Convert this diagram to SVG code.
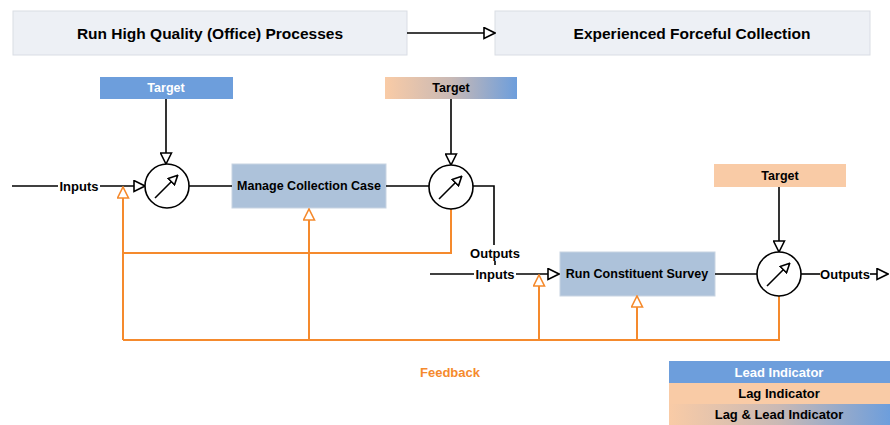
<svg xmlns="http://www.w3.org/2000/svg" width="890" height="425" viewBox="0 0 890 425">
<defs>
<linearGradient id="gr" x1="0" y1="0" x2="1" y2="0">
<stop offset="0" stop-color="#f9cba6"/>
<stop offset="0.5" stop-color="#c9b9b5"/>
<stop offset="1" stop-color="#6d9edc"/>
</linearGradient>
<marker id="ah" markerWidth="13" markerHeight="13" refX="12" refY="6.5" orient="auto" markerUnits="userSpaceOnUse">
<path d="M1,1 L12,6.5 L1,12 Z" fill="#fff" stroke="#000" stroke-width="1.6"/>
</marker>
<marker id="oh" markerWidth="13" markerHeight="13" refX="12" refY="6.5" orient="auto" markerUnits="userSpaceOnUse">
<path d="M1,1 L12,6.5 L1,12 Z" fill="#fff" stroke="#f58a2d" stroke-width="1.6"/>
</marker>
<marker id="sh" markerWidth="11" markerHeight="11" refX="9" refY="5.5" orient="auto" markerUnits="userSpaceOnUse">
<path d="M1,1 L10,5.5 L1,10 Z" fill="#fff" stroke="#000" stroke-width="1.6"/>
</marker>
</defs>
<style>
text{font-family:"Liberation Sans",Arial,sans-serif;font-weight:bold;text-anchor:middle;dominant-baseline:central}
.top{fill:#edf0f5;stroke:#d9dde4;stroke-width:1}
.title{font-size:15.5px;fill:#000}
.node{fill:#adc2da;stroke:#c8d4e2;stroke-width:1}
.nt{font-size:12.5px;fill:#000}
.lbl{font-size:13px;fill:#000}
.blue{fill:#6d9edc}
.peach{fill:#f9cba6}
.grad{fill:url(#gr)}
.wt{font-size:12.5px;fill:#fff}
.lg{font-size:13px}
.ln{fill:none;stroke:#000;stroke-width:1.6}
.fb{fill:none;stroke:#f58a2d;stroke-width:2}
.circ{fill:#fff;stroke:#000;stroke-width:1.6}
</style>

<g id="top-left"><rect class="top" x="13" y="11" width="394" height="44"/><text class="title" x="210" y="33">Run High Quality (Office) Processes</text></g>
<g id="top-right"><rect class="top" x="495" y="11" width="375" height="44"/><text class="title" x="692" y="33">Experienced Forceful Collection</text></g>

<g id="target1"><rect class="blue" x="100" y="77" width="133" height="22"/><text class="wt" x="166" y="88">Target</text></g>
<g id="target2"><rect class="grad" x="385" y="77" width="132" height="22"/><text class="nt" x="451" y="88">Target</text></g>
<g id="target3"><rect class="peach" x="714" y="164" width="132" height="23"/><text class="nt" x="780" y="175.5">Target</text></g>

<g id="manage"><rect class="node" x="232" y="164" width="154" height="44"/><text class="nt" x="309" y="186">Manage Collection Case</text></g>
<g id="survey"><rect class="node" x="560" y="252" width="155" height="44"/><text class="nt" x="637" y="274">Run Constituent Survey</text></g>

<g id="connectors">
<line class="ln" x1="407" y1="33" x2="495" y2="33" marker-end="url(#ah)"/>
<line class="ln" x1="166" y1="99" x2="166" y2="164" marker-end="url(#ah)"/>
<line class="ln" x1="451" y1="99" x2="451" y2="165" marker-end="url(#ah)"/>
<line class="ln" x1="779" y1="187" x2="779" y2="252" marker-end="url(#ah)"/>
<line class="ln" x1="12" y1="186" x2="58" y2="186"/>
<line class="ln" x1="100" y1="186" x2="145" y2="186" marker-end="url(#ah)"/>
<line class="ln" x1="189" y1="186" x2="232" y2="186"/>
<line class="ln" x1="386" y1="186" x2="429" y2="186"/>
<polyline class="ln" points="473,186 494,186 494,245"/>
<line class="ln" x1="495" y1="261" x2="495" y2="265"/>
<line class="ln" x1="430" y1="274" x2="474" y2="274"/>
<line class="ln" x1="516" y1="274" x2="559" y2="274" marker-end="url(#ah)"/>
<line class="ln" x1="715" y1="274" x2="757" y2="274"/>
<line class="ln" x1="801" y1="274" x2="820" y2="274"/>
<line class="ln" x1="870" y1="274" x2="888" y2="274" marker-end="url(#ah)"/>

<polyline class="fb" points="451,208 451,253 123,253"/>
<line class="fb" x1="123" y1="340" x2="123" y2="187" marker-end="url(#oh)"/>
<line class="fb" x1="309" y1="340" x2="309" y2="209" marker-end="url(#oh)"/>
<line class="fb" x1="539" y1="340" x2="539" y2="275" marker-end="url(#oh)"/>
<line class="fb" x1="637" y1="340" x2="637" y2="296" marker-end="url(#oh)"/>
<polyline class="fb" points="123,340 779,340 779,296"/>
</g>

<g id="comp1"><circle class="circ" cx="167" cy="186" r="22"/><line class="ln" x1="155" y1="198" x2="177" y2="176" marker-end="url(#sh)"/></g>
<g id="comp2"><circle class="circ" cx="451" cy="187" r="22"/><line class="ln" x1="439" y1="199" x2="461" y2="177" marker-end="url(#sh)"/></g>
<g id="comp3"><circle class="circ" cx="779" cy="274" r="22"/><line class="ln" x1="767" y1="286" x2="789" y2="264" marker-end="url(#sh)"/></g>

<g id="labels">
<text class="lbl" x="79" y="186">Inputs</text>
<text class="lbl" x="495" y="253">Outputs</text>
<text class="lbl" x="495" y="274">Inputs</text>
<text class="lbl" x="845" y="274">Outputs</text>
<text x="450" y="372" style="font-size:13px;fill:#f58a2d">Feedback</text>
</g>

<g id="legend">
<rect class="blue" x="669" y="361" width="221" height="22"/><text class="wt lg" x="779" y="372">Lead Indicator</text>
<rect class="peach" x="669" y="383" width="221" height="21"/><text class="nt lg" x="779" y="393.5">Lag Indicator</text>
<rect class="grad" x="669" y="404" width="221" height="21"/><text class="nt lg" x="779" y="414.5">Lag &amp; Lead Indicator</text>
</g>
</svg>
